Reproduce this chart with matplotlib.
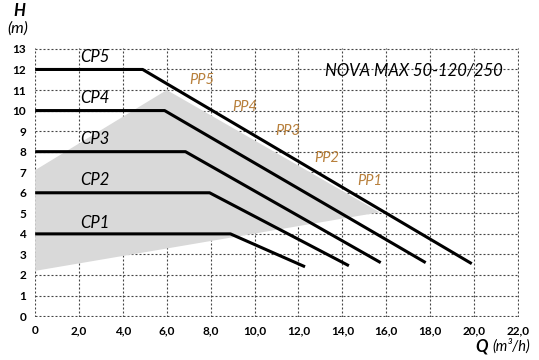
import matplotlib
matplotlib.use("Agg")
import matplotlib.pyplot as plt
from matplotlib.patches import Polygon

# ---- data ----
cp_names = ["CP1", "CP2", "CP3", "CP4", "CP5"]
cp_head = [4, 6, 8, 10, 12]
cp_knee_q = [8.9, 7.95, 6.85, 5.9, 4.9]
cp_end_q = [12.3, 14.3, 15.75, 17.8, 19.9]
cp_end_h = [2.4, 2.45, 2.6, 2.6, 2.55]
cp_label_h = [4.55, 6.6, 8.6, 10.6, 12.6]

pp_names = ["PP1", "PP2", "PP3", "PP4", "PP5"]
pp_label_q = [15.25, 13.3, 11.5, 9.55, 7.6]
pp_label_h = [6.55, 7.7, 9.0, 10.15, 11.5]

zone_q = [0, 0, 6.0, 15.7]
zone_h = [2.2, 7.1, 11.0, 5.05]

x_ticks = [0, 2, 4, 6, 8, 10, 12, 14, 16, 18, 20, 22]
x_labels = ["0", "2,0", "4,0", "6,0", "8,0", "10,0", "12,0", "14,0", "16,0", "18,0", "20,0", "22,0"]
y_ticks = list(range(0, 14))

title = "NOVA MAX 50-120/250"

FAM = ["Lato", "DejaVu Sans"]
plt.rcParams["font.family"] = FAM

W, H = 539, 360
fig = plt.figure(figsize=(W / 100, H / 100), dpi=100)
ax = fig.add_axes([34.5 / W, (H - 316.7) / H, 484 / W, 268.4 / H])
ax.set_xlim(-0.03, 22.03)
ax.set_ylim(-0.03, 13.03)
for s in ax.spines.values():
    s.set_visible(False)

ax.set_xticks(x_ticks)
ax.set_xticklabels(x_labels)
ax.set_yticks(y_ticks)
ax.tick_params(length=0, labelsize=8.5, pad=6)
for lab in ax.get_xticklabels() + ax.get_yticklabels():
    lab.set_fontweight("bold")
ax.grid(True, color="#444444", lw=0.8, linestyle=(0, (1.8, 1.8)))
ax.set_axisbelow(True)

# gray zone
poly = Polygon(list(zip(zone_q, zone_h)), closed=True, facecolor="#d9d9d9",
               edgecolor="none", zorder=1)
ax.add_patch(poly)

# CP curves
for name, h, kq, eq, eh, lh in zip(cp_names, cp_head, cp_knee_q, cp_end_q, cp_end_h, cp_label_h):
    ax.plot([0, kq, eq], [h, h, eh], color="black", lw=2.2, zorder=3,
            solid_capstyle="butt", clip_on=False)
    ax.text(2.05, lh, name, fontsize=12, style="italic", color="black",
            ha="left", va="center", zorder=4)

# PP labels
for name, q, h in zip(pp_names, pp_label_q, pp_label_h):
    ax.text(q, h, name, fontsize=10.5, style="italic", color="#b8803c",
            ha="center", va="center", zorder=4)

ax.text(17.25, 11.95, title, fontsize=12, style="italic", color="black",
        ha="center", va="center", zorder=4)

# axis titles
fig.text(19.5 / W, 1 - 11.5 / H, "H", fontsize=12, fontweight="bold",
         style="italic", ha="center", va="center")
fig.text(17.5 / W, 1 - 28.5 / H, "(m)", fontsize=11.5, style="italic",
         ha="center", va="center")
fig.text(530 / W, 1 - 346.5 / H, "(m³/h)", fontsize=10.5, style="italic",
         ha="right", va="center")
fig.text(488 / W, 1 - 346.5 / H, "Q", fontsize=12, fontweight="bold",
         style="italic", ha="right", va="center")

fig.savefig("out.png", dpi=100)
